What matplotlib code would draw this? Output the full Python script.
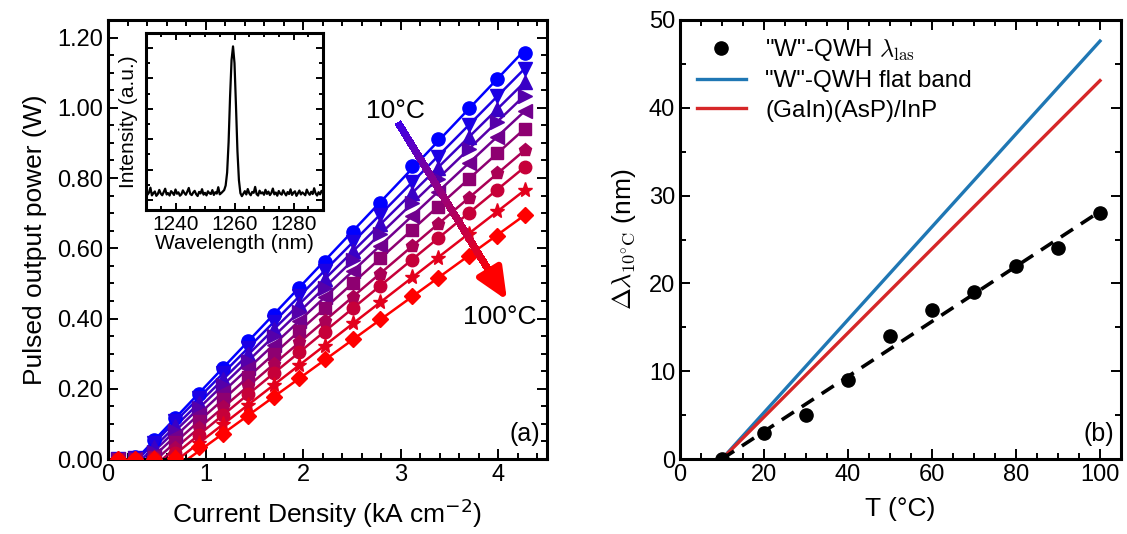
import numpy as np
import matplotlib
matplotlib.use("Agg")
import matplotlib.pyplot as plt
from matplotlib.collections import LineCollection
from matplotlib.ticker import MultipleLocator, FormatStrFormatter

plt.rcParams['font.family'] = ['Liberation Sans', 'DejaVu Sans']
plt.rcParams['mathtext.fontset'] = 'cm'
plt.rcParams['axes.linewidth'] = 2.2

# ---- (a) pulsed L-J curves, 10 °C ... 100 °C ----
temperatures = [10, 20, 30, 40, 50, 60, 70, 80, 90, 100]
current_density = [0.10, 0.28, 0.47, 0.69, 0.93, 1.18, 1.44, 1.70, 1.96, 2.22,
                   2.51, 2.79, 3.12, 3.38, 3.70, 3.99, 4.27]
p10 = [0.000, 0.005, 0.054, 0.118, 0.186, 0.260, 0.336, 0.410, 0.487, 0.562, 0.647, 0.730, 0.835, 0.910, 1.000, 1.082, 1.156]
p20 = [0.000, 0.003, 0.045, 0.107, 0.174, 0.244, 0.317, 0.390, 0.463, 0.536, 0.617, 0.696, 0.789, 0.861, 0.951, 1.033, 1.111]
p30 = [0.000, 0.002, 0.033, 0.093, 0.159, 0.227, 0.298, 0.369, 0.441, 0.512, 0.591, 0.668, 0.758, 0.829, 0.917, 0.996, 1.073]
p40 = [0.000, 0.002, 0.021, 0.080, 0.144, 0.211, 0.280, 0.350, 0.419, 0.488, 0.566, 0.640, 0.728, 0.798, 0.883, 0.960, 1.035]
p50 = [0.000, 0.001, 0.012, 0.065, 0.127, 0.191, 0.259, 0.326, 0.393, 0.460, 0.535, 0.607, 0.693, 0.760, 0.843, 0.918, 0.990]
p60 = [0.000, 0.001, 0.006, 0.047, 0.107, 0.170, 0.234, 0.299, 0.364, 0.429, 0.501, 0.571, 0.653, 0.718, 0.798, 0.870, 0.940]
p70 = [0.000, 0.000, 0.004, 0.031, 0.088, 0.147, 0.208, 0.270, 0.332, 0.393, 0.462, 0.528, 0.606, 0.668, 0.744, 0.813, 0.879]
p80 = [0.000, 0.000, 0.003, 0.016, 0.068, 0.126, 0.185, 0.244, 0.304, 0.363, 0.429, 0.493, 0.568, 0.628, 0.701, 0.767, 0.831]
p90 = [0.000, 0.000, 0.002, 0.006, 0.045, 0.099, 0.155, 0.211, 0.267, 0.323, 0.386, 0.446, 0.517, 0.573, 0.642, 0.705, 0.765]
p100 = [0.000, 0.000, 0.000, 0.002, 0.033, 0.070, 0.122, 0.177, 0.231, 0.284, 0.343, 0.399, 0.463, 0.515, 0.577, 0.636, 0.694]
powers = [p10, p20, p30, p40, p50, p60, p70, p80, p90, p100]
markers = ['o', 'v', '^', '>', '<', 's', 'p', 'o', '*', 'D']
marker_sizes = [9.5, 10, 10, 10, 10, 8.5, 9.5, 9, 11, 8.5]

# ---- inset: lasing spectrum ----
spectrum = [0.62, 0.35, 0.48, 0.81, 0.30, 0.44, 0.56, 0.27, 0.39, 0.66, 0.42, 0.31, 0.52,
            0.74, 0.36, 0.45, 0.29, 0.58, 0.47, 0.33, 0.69, 0.41, 0.50, 0.28, 0.37, 0.63,
            0.46, 0.34, 0.55, 0.79, 0.40, 0.32, 0.49, 0.60, 0.38, 0.26, 0.53, 0.43, 0.71,
            0.35, 0.47, 0.30, 0.57, 0.44, 0.39, 0.65, 0.33, 0.51, 0.42, 0.84, 0.37, 0.45,
            0.55, 0.65, 0.95, 1.8, 3.8, 6.8, 9.2, 10.1, 9.0, 6.2, 3.2, 1.3, 0.45, 0.25,
            0.41, 0.58, 0.36, 0.72, 0.44, 0.31, 0.53, 0.47, 0.86, 0.38, 0.29, 0.61, 0.43,
            0.50, 0.34, 0.67, 0.40, 0.55, 0.32, 0.46, 0.75, 0.37, 0.49, 0.28, 0.59, 0.42,
            0.35, 0.64, 0.45, 0.30, 0.52, 0.39, 0.70, 0.33, 0.48, 0.57, 0.27, 0.44, 0.62,
            0.36, 0.50, 0.41, 0.31, 0.68, 0.46, 0.34, 0.54, 0.39, 0.77, 0.43, 0.29, 0.51,
            0.37, 0.60, 0.45]
wl_start, wl_step = 1230.0, 0.5

# ---- (b) wavelength shift vs temperature ----
T_meas = [10, 20, 30, 40, 50, 60, 70, 80, 90, 100]
dlambda_meas = [0, 3, 5, 9, 14, 17, 19, 22, 24, 28]
T_model = [10, 100]
dlambda_flatband = [0, 47.6]
dlambda_gainasp = [0, 43.1]

fig = plt.figure(figsize=(11.27, 5.34), dpi=100)
W, H = 1127, 534
axL = fig.add_axes([108 / W, 75 / H, 439 / W, 439 / H])
axR = fig.add_axes([680 / W, 75 / H, 441 / W, 439 / H])
axI = fig.add_axes([146 / W, (H - 210) / H, 177 / W, 177 / H])


def style_ticks(ax, major_len=7, minor_len=4, size=17):
    ax.tick_params(which='both', direction='in', top=True, right=True, width=1.4, labelsize=size)
    ax.tick_params(which='major', length=major_len)
    ax.tick_params(which='minor', length=minor_len)


# panel (a)
n = len(temperatures)
cur = np.array(current_density)
for i, (p, m, ms) in enumerate(zip(powers, markers, marker_sizes)):
    frac = i / (n - 1)
    color = (frac, 0.0, 1.0 - frac)
    p = np.array(p)
    lasing = p >= 0.06
    slope, icpt = np.polyfit(cur[lasing], p[lasing], 1)
    j_th = -icpt / slope
    jj = np.array([j_th, cur[-1]])
    axL.plot(jj, slope * jj + icpt, '-', color=color, lw=1.8, zorder=2)
    axL.plot(cur, p, linestyle='none', marker=m, ms=ms, color=color, zorder=3 + i * 0.01)

axL.set_xlim(0, 4.5)
axL.set_ylim(0, 1.25)
axL.xaxis.set_major_locator(MultipleLocator(1))
axL.xaxis.set_minor_locator(MultipleLocator(0.2))
axL.yaxis.set_major_locator(MultipleLocator(0.2))
axL.yaxis.set_minor_locator(MultipleLocator(0.05))
axL.yaxis.set_major_formatter(FormatStrFormatter('%.2f'))
style_ticks(axL)
axL.set_xlabel('Current Density (kA cm$^{-2}$)', fontsize=19, labelpad=8,
               math_fontfamily='dejavusans')
axL.set_ylabel('Pulsed output power (W)', fontsize=19, labelpad=7)
axL.text(0.985, 0.03, '(a)', transform=axL.transAxes, ha='right', va='bottom', fontsize=18)

# temperature arrow with a blue-to-red gradient
a_start = np.array([2.99, 0.95])
a_end = np.array([4.09, 0.452])
a_head = a_start + 0.88 * (a_end - a_start)
tt = np.linspace(0, 1, 80)
pts = a_start[None, :] + tt[:, None] * (a_head - a_start)[None, :]
segs = np.stack([pts[:-1], pts[1:]], axis=1)
cols = [(0.25 + 0.75 * t, 0.0, 0.9 * (1 - t)) for t in tt[:-1]]
axL.add_collection(LineCollection(segs, colors=cols, linewidths=4.6, zorder=5,
                                  capstyle='projecting', antialiaseds=False))
axL.annotate('', xy=a_end, xytext=a_head - 0.03 * (a_end - a_start),
             arrowprops=dict(arrowstyle='-|>,head_length=0.95,head_width=0.42',
                             mutation_scale=20, color=(1.0, 0.0, 0.0), lw=4.6,
                             shrinkA=0, shrinkB=0), zorder=6)
axL.text(2.95, 0.99, '10°C', fontsize=19, ha='center', va='center', zorder=7)
axL.text(4.02, 0.405, '100°C', fontsize=19, ha='center', va='center', zorder=7)

# inset
wl = wl_start + wl_step * np.arange(len(spectrum))
axI.plot(wl, spectrum, color='black', lw=1.6)
axI.set_xlim(1230, 1290)
axI.set_ylim(-0.66, 10.98)
axI.xaxis.set_major_locator(MultipleLocator(20))
axI.xaxis.set_minor_locator(MultipleLocator(5))
axI.yaxis.set_major_locator(MultipleLocator(2))
axI.yaxis.set_minor_locator(MultipleLocator(1))
style_ticks(axI, major_len=5, minor_len=3, size=15)
axI.set_yticklabels([])
axI.set_xlabel('Wavelength (nm)', fontsize=15, labelpad=0)
axI.set_ylabel('Intensity (a.u.)', fontsize=15, labelpad=2)
for s in axI.spines.values():
    s.set_linewidth(2.2)

# panel (b)
axR.plot(T_meas, dlambda_meas, linestyle='none', marker='o', ms=9.5, color='black',
         label='"W"-QWH $\\lambda_{\\mathrm{las}}$', zorder=4)
slope_b, icpt_b = np.polyfit(T_meas, dlambda_meas, 1)
Tf = np.array([T_meas[0], T_meas[-1]])
axR.plot(Tf, slope_b * Tf + icpt_b, '--', color='black', lw=2.6, dashes=(4, 2.6), zorder=3)
axR.plot(T_model, dlambda_flatband, '-', color='#1f77b4', lw=2.4, label='"W"-QWH flat band')
axR.plot(T_model, dlambda_gainasp, '-', color='#d62728', lw=2.4, label='(GaIn)(AsP)/InP')
axR.set_xlim(0, 105)
axR.set_ylim(0, 50)
axR.xaxis.set_major_locator(MultipleLocator(20))
axR.xaxis.set_minor_locator(MultipleLocator(5))
axR.yaxis.set_major_locator(MultipleLocator(10))
axR.yaxis.set_minor_locator(MultipleLocator(5))
style_ticks(axR)
axR.set_xlabel('T (°C)', fontsize=19, labelpad=8)
axR.set_ylabel('$\\Delta\\lambda_{10^{\\circ}\\mathrm{C}}$ (nm)', fontsize=19, labelpad=8)
axR.text(0.985, 0.03, '(b)', transform=axR.transAxes, ha='right', va='bottom', fontsize=18)
axR.legend(loc='upper left', frameon=False, fontsize=17.5, handlelength=2.0,
           borderaxespad=0.3, labelspacing=0.3)

fig.savefig('out.png', dpi=100)
